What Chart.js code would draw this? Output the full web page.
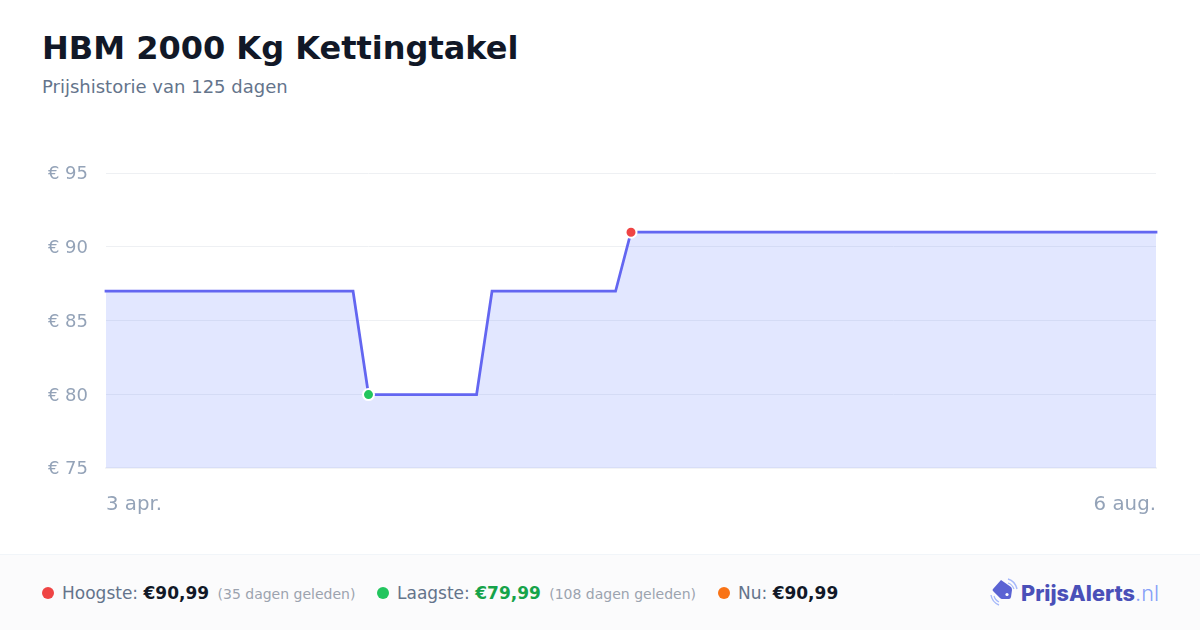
<!DOCTYPE html>
<html lang="nl"><head><meta charset="utf-8">
<style>
html,body{margin:0;padding:0;background:#fff;width:1200px;height:630px;overflow:hidden;font-family:"DejaVu Sans",sans-serif}
#wrap{position:absolute;left:0;top:0;width:1200px;height:630px}
#title{position:absolute;left:42px;top:28px;font-size:32px;font-weight:700;color:#111827;line-height:40px;white-space:nowrap}
#sub{position:absolute;left:42px;top:76px;font-size:18px;color:#64748b;line-height:22px;white-space:nowrap}
#footer{position:absolute;left:0;top:554px;width:1200px;height:76px;background:#fbfbfc;border-top:1px solid #f1f5f9;box-sizing:border-box}
.it{position:absolute;top:27px;font-size:17px;line-height:22px;color:#64748b;white-space:nowrap}
.it b{color:#111827}
.it small{font-size:14px;color:#9ca3af;margin-left:3px}
.dot{position:absolute;top:32px;width:12px;height:12px;border-radius:50%}
#logo{position:absolute;left:1021px;top:24px;font-family:Inter,Roboto,sans-serif;font-weight:800;font-size:21.7px;line-height:28px;color:#4a50b8;white-space:nowrap}
#logo span{font-weight:300;color:#86a0f8}
#ic{position:absolute;left:988px;top:22px}
#cv{position:absolute;left:0;top:0}
</style>
</head><body>
<div id="wrap">
<div id="title">HBM 2000 Kg Kettingtakel</div>
<div id="sub">Prijshistorie van 125 dagen</div>
<canvas id="cv" width="1200" height="550" style="width:1200px;height:550px"></canvas>
<div id="footer">
<div class="dot" style="left:42px;background:#ef4444"></div>
<div class="it" style="left:62px">Hoogste: <b>€90,99</b> <small>(35 dagen geleden)</small></div>
<div class="dot" style="left:377px;background:#22c55e"></div>
<div class="it" style="left:397px">Laagste: <b style="color:#16a34a">€79,99</b> <small>(108 dagen geleden)</small></div>
<div class="dot" style="left:718px;background:#f97316"></div>
<div class="it" style="left:738px">Nu: <b>€90,99</b></div>
<svg id="ic" width="32" height="32" viewBox="0 0 32 32">
<path d="M13 3 L23 10 Q24 11 24 13 L23 20 Q22.500 22 21 22 L14 22 Q13 22 12 21 L5 14 Q4 13 5 12 Z" fill="#5b63d3"/>
<circle cx="19" cy="17.500" r="1.6" fill="#fff"/>
<path d="M20 2 Q27 4 29 12" fill="none" stroke="#a5b8fa" stroke-width="1.4"/>
<path d="M20 6 Q24 7 26 12" fill="none" stroke="#a5b8fa" stroke-width="1.2"/>
<path d="M3 18 Q4 25 11 28" fill="none" stroke="#a5b8fa" stroke-width="1.4"/>
<path d="M6 19 Q7 23 11 25" fill="none" stroke="#a5b8fa" stroke-width="1.2"/>
</svg>
<div id="logo">PrijsAlerts<span>.nl</span></div>
</div>
</div>
<script src="https://cdn.jsdelivr.net/npm/chart.js@4"></script>
<script>
const firstLabel = "3 apr.";
const lastLabel = "6 aug.";
const prices = [
86.99,86.99,86.99,86.99,86.99,86.99,86.99,86.99,86.99,86.99,86.99,86.99,86.99,86.99,86.99,86.99,86.99,
79.99,79.99,79.99,79.99,79.99,79.99,79.99,79.99,
86.99,86.99,86.99,86.99,86.99,86.99,86.99,86.99,86.99,
90.99,90.99,90.99,90.99,90.99,90.99,90.99,90.99,90.99,90.99,90.99,90.99,90.99,90.99,90.99,90.99,90.99,90.99,90.99,90.99,90.99,90.99,90.99,90.99,90.99,90.99,90.99,90.99,90.99,90.99,90.99,90.99,90.99,90.99,90.99
];
const labels = prices.map((_, i) => i === 0 ? firstLabel : i === prices.length - 1 ? lastLabel : "");
const yTicks = [75, 80, 85, 90, 95];
const lowIdx = prices.indexOf(Math.min(...prices));
const highIdx = prices.indexOf(Math.max(...prices));

new Chart(document.getElementById("cv"), {
  type: "line",
  data: { labels, datasets: [{
    data: prices,
    borderColor: "#6366f1",
    borderWidth: 2.75,
    borderCapStyle: "square",
    backgroundColor: "rgba(99,125,255,0.19)",
    fill: "start",
    tension: 0,
    clip: false,
    pointRadius: prices.map((_, i) => (i === lowIdx || i === highIdx) ? 5.5 : 0),
    pointHoverRadius: 0,
    pointBackgroundColor: prices.map((_, i) => i === lowIdx ? "#22c55e" : "#ef4444"),
    pointBorderColor: "#ffffff",
    pointBorderWidth: 2
  }]},
  options: {
    responsive: false, animation: false, devicePixelRatio: 1,
    layout: { padding: { left: 48, right: 44, top: 173, bottom: 8 } },
    plugins: { legend: { display: false }, tooltip: { enabled: false } },
    scales: {
      x: {
        offset: false,
        grid: { display: false, drawTicks: false },
        border: { display: true, color: "#f3f4f6", width: 2 },
        ticks: { autoSkip: false, maxRotation: 0, minRotation: 0, align: "inner", padding: 25,
          color: "#94a3b8", font: { family: "DejaVu Sans", size: 19.8 },
          callback: (v, i) => labels[i] }
      },
      y: {
        min: 75, max: 95,
        afterFit: s => { s.width = 58; },
        afterBuildTicks: s => { s.ticks = yTicks.map(value => ({ value })); },
        grid: { color: "#eef0f3", lineWidth: 1, drawTicks: false },
        border: { display: false },
        ticks: { padding: 18, labelOffset: 1.5, color: "#94a3b8", font: { family: "DejaVu Sans", size: 18 },
          callback: v => "€ " + v }
      }
    }
  }
});
</script>
</body></html>
